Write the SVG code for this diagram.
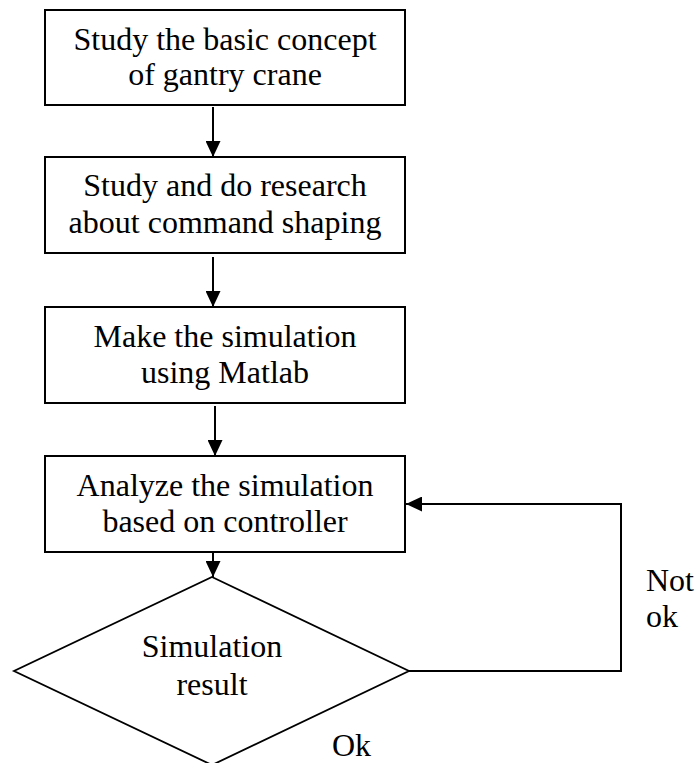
<svg xmlns="http://www.w3.org/2000/svg" width="699" height="763" viewBox="0 0 699 763">
<style>
.box{fill:#fff;stroke:#000;stroke-width:2}
.dia{fill:#fff;stroke:#000;stroke-width:1.8}
.t{font-family:"Liberation Serif","Times New Roman",serif;font-size:32px;fill:#000}
.c{text-anchor:middle}
.ln{fill:none;stroke:#000;stroke-width:2}
</style>
<defs>
<marker id="ah" markerUnits="userSpaceOnUse" markerWidth="16" markerHeight="15" viewBox="0 0 16 15" refX="16" refY="7.5" orient="auto">
<path d="M0,0 L16,7.5 L0,15 Z" fill="#000"/>
</marker>
</defs>
<rect width="699" height="763" fill="#fff"/>
<g id="connectors">
<line class="ln" x1="213" y1="107" x2="213" y2="157" marker-end="url(#ah)"/>
<line class="ln" x1="213" y1="257" x2="213" y2="307" marker-end="url(#ah)"/>
<line class="ln" x1="215" y1="406" x2="215" y2="456" marker-end="url(#ah)"/>
<line class="ln" x1="213" y1="552" x2="213" y2="577" marker-end="url(#ah)"/>
<polyline class="ln" points="409,671 621,671 621,504 406,504" marker-end="url(#ah)"/>
</g>
<g id="n1">
<rect class="box" x="45" y="10" width="360" height="95"/>
<text class="t c" x="225" y="49.5">Study the basic concept</text>
<text class="t c" x="225" y="85">of gantry crane</text>
</g>
<g id="n2">
<rect class="box" x="45" y="157" width="360" height="96"/>
<text class="t c" x="225" y="196">Study and do research</text>
<text class="t c" x="225" y="232.5">about command shaping</text>
</g>
<g id="n3">
<rect class="box" x="45" y="307" width="360" height="96"/>
<text class="t c" x="225" y="347">Make the simulation</text>
<text class="t c" x="225" y="383">using Matlab</text>
</g>
<g id="n4">
<rect class="box" x="45" y="456" width="360" height="96"/>
<text class="t c" x="225" y="496">Analyze the simulation</text>
<text class="t c" x="225" y="532">based on controller</text>
</g>
<g id="n5">
<polygon class="dia" points="212,577 409,671 212,765 14,671"/>
<text class="t c" x="212" y="657">Simulation</text>
<text class="t c" x="212" y="695">result</text>
</g>
<g id="labels">
<text class="t" x="332" y="756">Ok</text>
<text class="t" x="646" y="591">Not</text>
<text class="t" x="646" y="627">ok</text>
</g>
</svg>
